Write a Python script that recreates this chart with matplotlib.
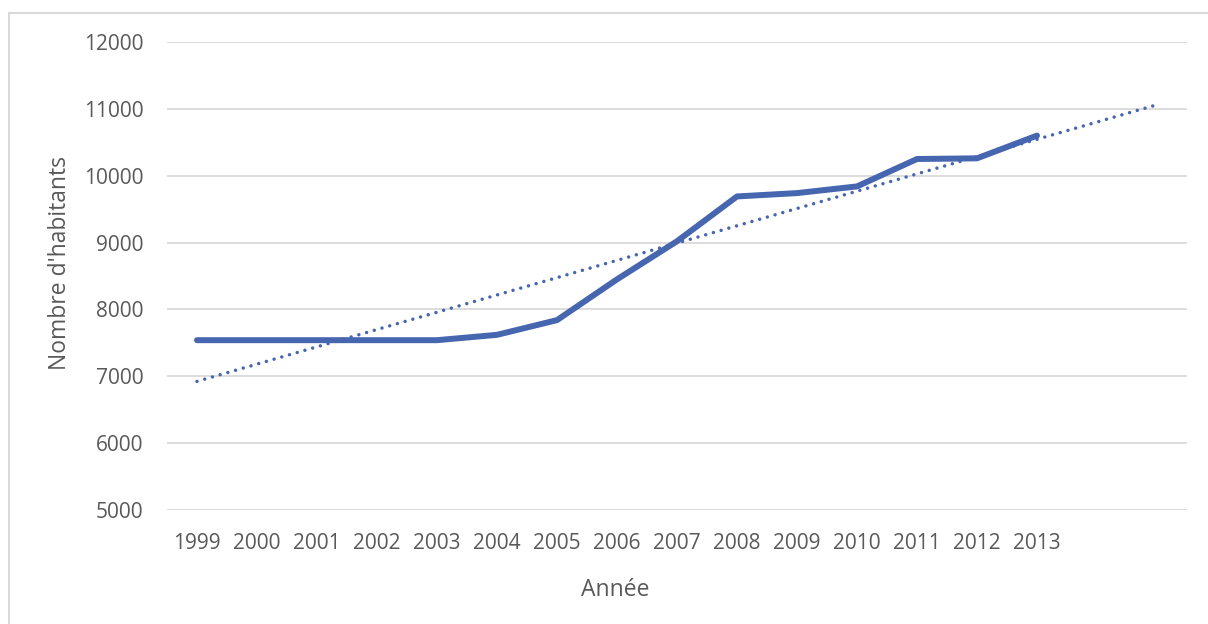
import matplotlib.pyplot as plt
import numpy as np

annees = ['1999', '2000', '2001', '2002', '2003', '2004', '2005', '2006',
          '2007', '2008', '2009', '2010', '2011', '2012', '2013']
habitants = [7540, 7540, 7540, 7540, 7540, 7620, 7840, 8450,
             9020, 9690, 9740, 9840, 10250, 10260, 10600]
periodes_prevision = 2
y_ticks = [5000, 6000, 7000, 8000, 9000, 10000, 11000, 12000]

bleu = '#4666B0'
gris_texte = '#595959'
gris_grille = '#d9d9d9'

plt.rcParams['font.family'] = ['Open Sans', 'DejaVu Sans']

fig = plt.figure(figsize=(12.08, 6.24), dpi=100)
ax = fig.add_axes([167/1208, 1-510/624, (1187-167)/1208, (510-42)/624])

x = np.arange(len(annees))
ax.plot(x, habitants, color=bleu, lw=4.3, solid_capstyle='round',
        solid_joinstyle='round', zorder=3)

# tendance linéaire, prolongée de deux périodes
pente, origine = np.polyfit(x, habitants, 1)
x_tend = np.arange(len(annees) + periodes_prevision)
ax.plot(x_tend, pente*x_tend + origine, color=bleu, lw=2.5,
        linestyle=(0, (0.01, 2.3)), dash_capstyle='round', zorder=2)

ax.set_xlim(-0.5, len(annees) + periodes_prevision - 0.5)
ax.set_ylim(5000, 12000)
ax.set_xticks(x)
ax.set_xticklabels(annees)
ax.set_yticks(y_ticks)
ax.tick_params(length=0, labelsize=15, labelcolor=gris_texte)
ax.tick_params(axis='y', pad=17)
ax.tick_params(axis='x', pad=16.5)
ax.grid(axis='y', color=gris_grille, lw=1.3)
ax.set_axisbelow(True)
for s in ax.spines.values():
    s.set_visible(False)

ax.set_xlabel('Année', fontsize=16.5, color=gris_texte, va='center')
ax.set_ylabel("Nombre d'habitants", fontsize=16.5, color=gris_texte, va='center')
ax.xaxis.set_label_coords(0.439, -0.171)
ax.yaxis.set_label_coords(-0.105, 0.528)

# cadre de la zone de graphique
fig.add_artist(plt.Line2D([8.5/1208, 8.5/1208], [0, 1-12.5/624],
                          color=gris_grille, lw=1.5, transform=fig.transFigure))
fig.add_artist(plt.Line2D([8.5/1208, 1], [1-12.5/624, 1-12.5/624],
                          color=gris_grille, lw=1.5, transform=fig.transFigure))

fig.savefig('out.png', dpi=100)
